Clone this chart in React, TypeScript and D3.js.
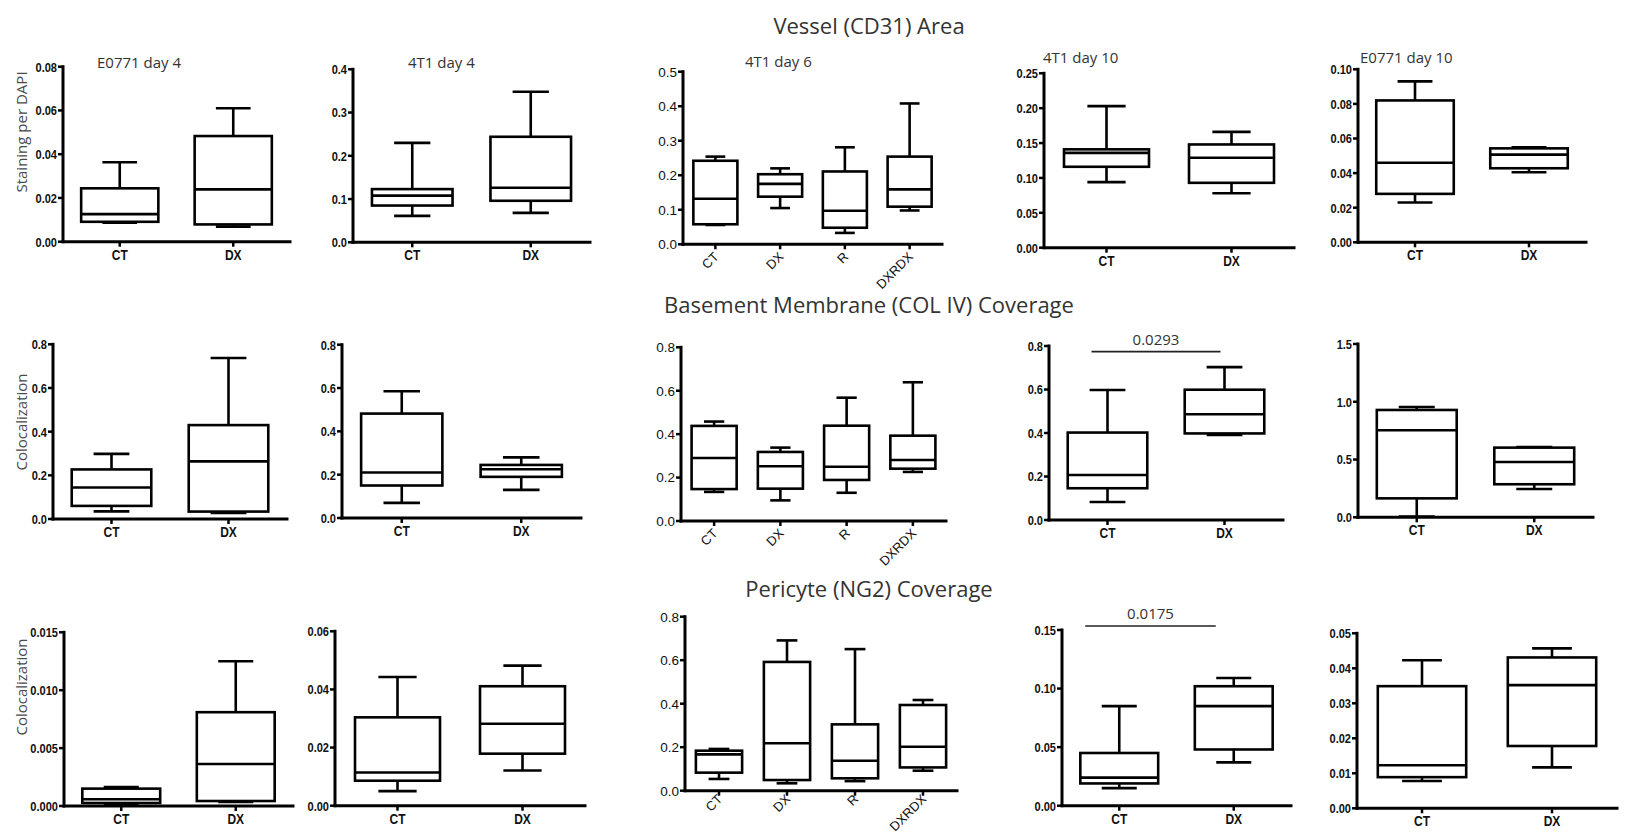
import React from "react";
import * as d3 from "d3";

// groups on the x axis
const groups2 = ["CT", "DX"];
const groups4 = ["CT", "DX", "R", "DXRDX"];

// box stats per group: [whisker low, q1, median, q3, whisker high]
const cd31E0771Day4 = [[0.0087, 0.0091, 0.0126, 0.0244, 0.0363], [0.0069, 0.0079, 0.0239, 0.0483, 0.061]];
const cd31T1Day4 = [[0.061, 0.085, 0.108, 0.123, 0.23], [0.068, 0.096, 0.126, 0.244, 0.348]];
const cd31T1Day6 = [[0.056, 0.058, 0.132, 0.242, 0.254], [0.105, 0.138, 0.175, 0.203, 0.22], [0.033, 0.048, 0.097, 0.211, 0.281], [0.098, 0.109, 0.159, 0.254, 0.408]];
const cd31T1Day10 = [[0.094, 0.116, 0.136, 0.141, 0.203], [0.078, 0.093, 0.129, 0.148, 0.166]];
const cd31E0771Day10 = [[0.023, 0.028, 0.046, 0.082, 0.093], [0.0405, 0.0428, 0.0507, 0.0543, 0.0549]];

const colE0771Day4 = [[0.035, 0.06, 0.144, 0.227, 0.298], [0.028, 0.034, 0.264, 0.43, 0.737]];
const colT1Day4 = [[0.07, 0.15, 0.21, 0.482, 0.585], [0.13, 0.19, 0.225, 0.245, 0.28]];
const colT1Day6 = [[0.134, 0.147, 0.29, 0.438, 0.458], [0.095, 0.149, 0.252, 0.318, 0.338], [0.13, 0.189, 0.25, 0.439, 0.568], [0.226, 0.241, 0.281, 0.393, 0.639]];
const colT1Day10 = [[0.083, 0.146, 0.207, 0.402, 0.598], [0.391, 0.398, 0.486, 0.599, 0.703]];
const colE0771Day10 = [[0.006, 0.164, 0.753, 0.929, 0.955], [0.245, 0.286, 0.479, 0.603, 0.609]];

const ng2E0771Day4 = [[0.00017, 0.00026, 0.00058, 0.0015, 0.00164], [0.00035, 0.00043, 0.00363, 0.0081, 0.0125]];
const ng2T1Day4 = [[0.005, 0.0086, 0.0114, 0.0304, 0.0443], [0.0121, 0.0179, 0.0282, 0.0411, 0.0482]];
const ng2T1Day6 = [[0.054, 0.083, 0.167, 0.184, 0.192], [0.034, 0.049, 0.218, 0.592, 0.691], [0.044, 0.057, 0.138, 0.305, 0.651], [0.092, 0.107, 0.202, 0.394, 0.417]];
const ng2T1Day10 = [[0.015, 0.019, 0.024, 0.045, 0.085], [0.037, 0.048, 0.085, 0.102, 0.109]];
const ng2E0771Day10 = [[0.0078, 0.0089, 0.0123, 0.0349, 0.0423], [0.0117, 0.0178, 0.0352, 0.0431, 0.0457]];

// y tick values
const ticksA = [0, 0.02, 0.04, 0.06, 0.08];
const ticksB = [0, 0.1, 0.2, 0.3, 0.4];
const ticksC = [0, 0.1, 0.2, 0.3, 0.4, 0.5];
const ticksD = [0, 0.05, 0.1, 0.15, 0.2, 0.25];
const ticksE = [0, 0.02, 0.04, 0.06, 0.08, 0.1];
const ticksF = [0, 0.2, 0.4, 0.6, 0.8];
const ticksG = [0, 0.5, 1.0, 1.5];
const ticksH = [0, 0.005, 0.01, 0.015];
const ticksI = [0, 0.02, 0.04, 0.06];
const ticksJ = [0, 0.05, 0.1, 0.15];
const ticksK = [0, 0.01, 0.02, 0.03, 0.04, 0.05];

const sectionTitles = ["Vessel (CD31) Area", "Basement Membrane (COL IV) Coverage", "Pericyte (NG2) Coverage"];
const panelTitles = ["E0771  day 4", "4T1 day 4", "4T1 day 6", "4T1 day 10", "E0771  day 10"];
const yLabels = ["Staining per DAPI", "Colocalization", "Colocalization"];
const pValues = ["0.0293", "0.0175"];

const panels = [
  { data: cd31E0771Day4, groups: groups2, ticks: ticksA, fmt: ".2f", x0: 63, x1: 290, yTop: 66.7, yBot: 241.7, title: panelTitles[0], tx: 97, ty: 68 },
  { data: cd31T1Day4, groups: groups2, ticks: ticksB, fmt: ".1f", x0: 353, x1: 590, yTop: 69.3, yBot: 242.3, title: panelTitles[1], tx: 408, ty: 68 },
  { data: cd31T1Day6, groups: groups4, ticks: ticksC, fmt: ".1f", x0: 683, x1: 942, yTop: 71.7, yBot: 244.3, title: panelTitles[2], tx: 745, ty: 67, lblDy: 10 },
  { data: cd31T1Day10, groups: groups2, ticks: ticksD, fmt: ".2f", x0: 1044, x1: 1294, yTop: 73.3, yBot: 247.7, title: panelTitles[3], tx: 1043, ty: 63 },
  { data: cd31E0771Day10, groups: groups2, ticks: ticksE, fmt: ".2f", x0: 1358, x1: 1586, yTop: 69.3, yBot: 242.3, title: panelTitles[4], tx: 1360, ty: 63 },

  { data: colE0771Day4, groups: groups2, ticks: ticksF, fmt: ".1f", x0: 53, x1: 287, yTop: 344.3, yBot: 519 },
  { data: colT1Day4, groups: groups2, ticks: ticksF, fmt: ".1f", x0: 342, x1: 581, yTop: 344.7, yBot: 518 },
  { data: colT1Day6, groups: groups4, ticks: ticksF, fmt: ".1f", x0: 681, x1: 946, yTop: 347.3, yBot: 521, lblDy: 10 },
  { data: colT1Day10, groups: groups2, ticks: ticksF, fmt: ".1f", x0: 1049, x1: 1283, yTop: 346, yBot: 520,
    sig: { text: pValues[0], value: 0.774, dx0: -16, dx1: -4 } },
  { data: colE0771Day10, groups: groups2, ticks: ticksG, fmt: ".1f", x0: 1358, x1: 1593, yTop: 344, yBot: 517.3 },

  { data: ng2E0771Day4, groups: groups2, ticks: ticksH, fmt: ".3f", x0: 64, x1: 293, yTop: 632.3, yBot: 806 },
  { data: ng2T1Day4, groups: groups2, ticks: ticksI, fmt: ".2f", x0: 335, x1: 585, yTop: 631.3, yBot: 805.7 },
  { data: ng2T1Day6, groups: groups4, ticks: ticksF, fmt: ".1f", x0: 685, x1: 957, yTop: 616.7, yBot: 790.7, lblDy: 6 },
  { data: ng2T1Day10, groups: groups2, ticks: ticksJ, fmt: ".2f", x0: 1062, x1: 1291, yTop: 630, yBot: 805.7,
    sig: { text: pValues[1], value: 0.1534, dx0: -34, dx1: -18 } },
  { data: ng2E0771Day10, groups: groups2, ticks: ticksK, fmt: ".2f", x0: 1357, x1: 1617, yTop: 633.3, yBot: 808.3 },
];

const sectionPos = [{ x: 869, y: 34 }, { x: 869, y: 313 }, { x: 869, y: 597 }];
const yLabelPos = [{ x: 27, y: 132 }, { x: 27, y: 422 }, { x: 27, y: 687 }];

const sansTitle = "'Open Sans', 'Noto Sans', sans-serif";
const arial = "'Liberation Sans', Arial, sans-serif";

function BoxPanel({ p }: { p: any }) {
  const x = d3.scaleBand().domain(p.groups).range([p.x0, p.x1]).paddingInner(0.32).paddingOuter(0.16);
  const y = d3.scaleLinear().domain([0, p.ticks[p.ticks.length - 1]]).range([p.yBot, p.yTop]);
  const fmt = d3.format(p.fmt);
  const bw = x.bandwidth();
  const wide = p.groups.length > 2;
  const cap = bw * 0.45;
  const sw = 2.6;

  return (
    <g>
      {p.title && (
        <text x={p.tx} y={p.ty} fontFamily={sansTitle} fontSize={15} fill="#333">
          {p.title}
        </text>
      )}
      {/* y axis */}
      <line x1={p.x0} x2={p.x0} y1={y.range()[1]} y2={p.yBot} stroke="#000" strokeWidth={3} strokeLinecap="square" />
      {p.ticks.map((t: number) => (
        <g key={t}>
          <line x1={p.x0 - 5} x2={p.x0} y1={y(t)} y2={y(t)} stroke="#000" strokeWidth={2.5} />
          {wide ? (
            <text x={p.x0 - 6} y={y(t)} dy="0.36em" textAnchor="end" fontFamily={arial} fontSize={13.5} fill="#111">
              {fmt(t)}
            </text>
          ) : (
            <text transform={`translate(${p.x0 - 6},${y(t)}) scale(0.82,1)`} dy="0.36em" textAnchor="end" fontFamily={arial} fontWeight="bold" fontSize={13.5} fill="#111">
              {fmt(t)}
            </text>
          )}
        </g>
      ))}
      {/* x axis */}
      <line x1={p.x0} x2={p.x1} y1={p.yBot} y2={p.yBot} stroke="#000" strokeWidth={3} strokeLinecap="square" />
      {p.groups.map((g: string) => {
        const cx = (x(g) as number) + bw / 2;
        return (
          <g key={g}>
            <line x1={cx} x2={cx} y1={p.yBot} y2={p.yBot + 5} stroke="#000" strokeWidth={2.5} />
            {wide ? (
              <text transform={`translate(${cx + 1},${p.yBot + p.lblDy}) rotate(-45)`} dy="0.35em" textAnchor="end" fontFamily={arial} fontSize={13} fill="#111">
                {g}
              </text>
            ) : (
              <text transform={`translate(${cx},${p.yBot + 18}) scale(0.8,1)`} textAnchor="middle" fontFamily={arial} fontWeight="bold" fontSize={15} fill="#111">
                {g}
              </text>
            )}
          </g>
        );
      })}
      {/* boxes */}
      {p.data.map((d: number[], i: number) => {
        const g = p.groups[i];
        const left = x(g) as number;
        const cx = left + bw / 2;
        const [lo, q1, med, q3, hi] = d;
        return (
          <g key={g} stroke="#000" strokeWidth={sw} fill="none">
            <line x1={cx} x2={cx} y1={y(hi)} y2={y(q3)} />
            <line x1={cx} x2={cx} y1={y(q1)} y2={y(lo)} />
            <line x1={cx - cap / 2} x2={cx + cap / 2} y1={y(hi)} y2={y(hi)} />
            <line x1={cx - cap / 2} x2={cx + cap / 2} y1={y(lo)} y2={y(lo)} />
            <rect x={left} y={y(q3)} width={bw} height={y(q1) - y(q3)} fill="#fff" />
            <line x1={left} x2={left + bw} y1={y(med)} y2={y(med)} />
          </g>
        );
      })}
      {p.sig && (
        <g>
          <line
            x1={(x(p.groups[0]) as number) + bw / 2 + p.sig.dx0}
            x2={(x(p.groups[1]) as number) + bw / 2 + p.sig.dx1}
            y1={y(p.sig.value)}
            y2={y(p.sig.value)}
            stroke="#222"
            strokeWidth={1.6}
          />
          <text
            x={((x(p.groups[0]) as number) + (x(p.groups[1]) as number) + bw + p.sig.dx0 + p.sig.dx1) / 2}
            y={y(p.sig.value) - 7}
            textAnchor="middle"
            fontFamily={sansTitle}
            fontSize={15}
            fill="#333"
          >
            {p.sig.text}
          </text>
        </g>
      )}
    </g>
  );
}

export default function App() {
  return (
    <svg width={1628} height={835} style={{ position: "absolute", left: 0, top: 0, background: "#fff" }}>
      <rect width={1628} height={835} fill="#fff" />
      {sectionTitles.map((t, i) => (
        <text key={t} x={sectionPos[i].x} y={sectionPos[i].y} textAnchor="middle" fontFamily={sansTitle} fontSize={22} fill="#333">
          {t}
        </text>
      ))}
      {yLabels.map((t, i) => (
        <text key={i} transform={`translate(${yLabelPos[i].x},${yLabelPos[i].y}) rotate(-90)`} textAnchor="middle" fontFamily={sansTitle} fontSize={15} fill="#4a4a4a">
          {t}
        </text>
      ))}
      {panels.map((p, i) => (
        <BoxPanel key={i} p={p} />
      ))}
    </svg>
  );
}
